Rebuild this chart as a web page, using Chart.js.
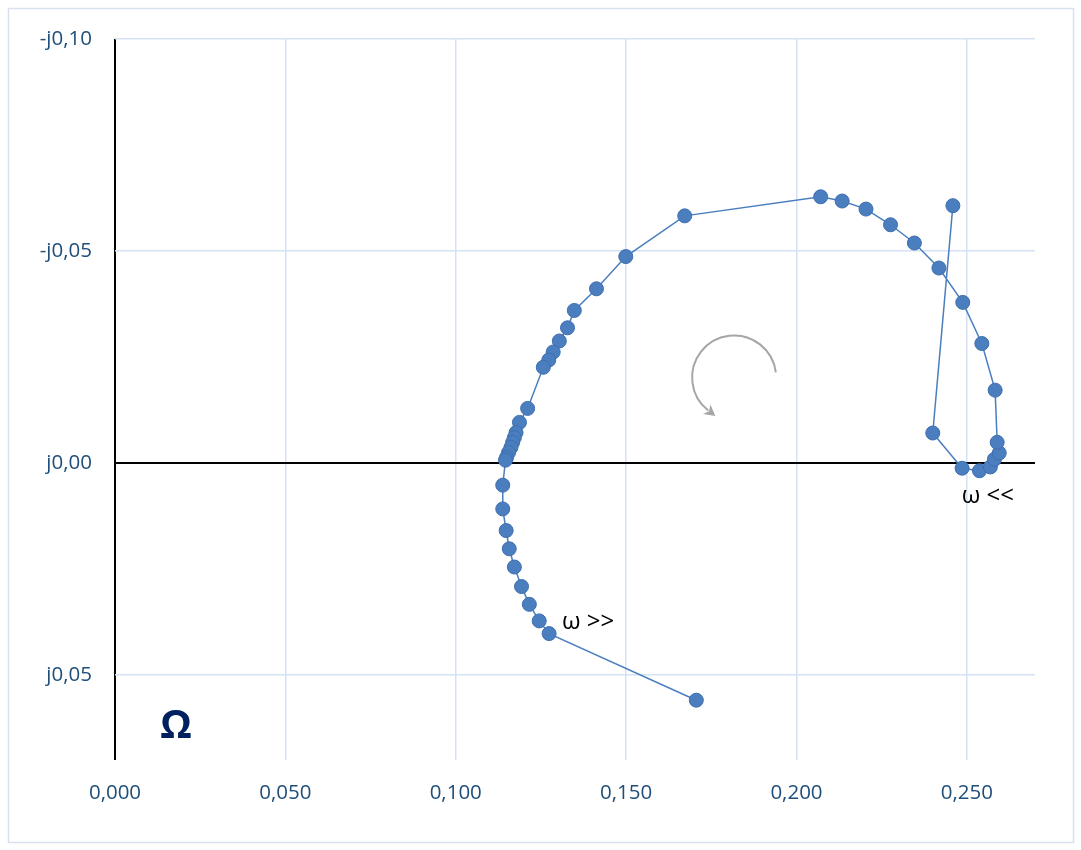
<!DOCTYPE html>
<html>
<head>
<meta charset="utf-8">
<script src="https://cdn.jsdelivr.net/npm/chart.js@4.4.1/dist/chart.umd.min.js"></script>
<style>
  html, body { margin: 0; padding: 0; background: #fff; }
  #wrap { width: 1081px; height: 850px; position: relative; }
</style>
</head>
<body>
<div id="wrap"><canvas id="c" width="1081" height="850"></canvas></div>
<script>
// Real part (Ω)
const resistance = [
  0.2459, 0.2400, 0.2486, 0.2537, 0.2569, 0.2581, 0.2595, 0.2589, 0.2583, 0.2544,
  0.2488, 0.2418, 0.2346, 0.2276, 0.2204, 0.2134, 0.2071, 0.1672, 0.1499, 0.1413,
  0.1348, 0.1328, 0.1304, 0.1286, 0.1273, 0.1257, 0.1211, 0.1187, 0.1177, 0.1172,
  0.1167, 0.1162, 0.1155, 0.1149, 0.1146, 0.1138, 0.1138, 0.1148, 0.1157, 0.1172,
  0.1193, 0.1216, 0.1245, 0.1274, 0.1706
];
// -Imaginary part (plotted upward)
const negReactance = [
  0.0607, 0.0071, -0.0012, -0.0018, -0.0009, 0.0009, 0.0024, 0.0049, 0.0172, 0.0282,
  0.0379, 0.0460, 0.0519, 0.0562, 0.0599, 0.0618, 0.0628, 0.0583, 0.0487, 0.0411,
  0.0360, 0.0319, 0.0288, 0.0262, 0.0243, 0.0226, 0.0129, 0.0096, 0.0072, 0.0060,
  0.0049, 0.0037, 0.0025, 0.0013, 0.0007, -0.0052, -0.0108, -0.0159, -0.0202, -0.0245,
  -0.0291, -0.0333, -0.0372, -0.0402, -0.0559
];
const xTicks = [0, 0.05, 0.10, 0.15, 0.20, 0.25];
const yTicks = [-0.05, 0, 0.05, 0.10];
const unitLabel = 'Ω';
const lowLabel = 'ω <<';
const highLabel = 'ω >>';

const points = resistance.map((x, i) => ({ x: x, y: negReactance[i] }));
const tickColor = '#1F4E79';
const gridColor = '#D6E2F3';
const FONT = '"Open Sans", sans-serif';

function fmtX(v) { return v.toFixed(3).replace('.', ','); }
function fmtY(v) {
  const s = Math.abs(v).toFixed(2).replace('.', ',');
  return (v > 0.0000001 ? '-j' : 'j') + s;
}

const decor = {
  id: 'decor',
  beforeDraw(chart) {
    const ctx = chart.ctx;
    ctx.save();
    ctx.fillStyle = '#fff';
    ctx.fillRect(0, 0, chart.width, chart.height);
    ctx.strokeStyle = '#D9E1EE';
    ctx.lineWidth = 1.5;
    ctx.strokeRect(8.5, 8.5, chart.width - 16, chart.height - 16);
    ctx.restore();
  },
  afterDraw(chart) {
    const ctx = chart.ctx;
    const xs = chart.scales.x, ys = chart.scales.y;
    ctx.save();
    // rotation arrow
    const cx = xs.getPixelForValue(0.1817), cy = ys.getPixelForValue(0.0202);
    const r = 42;
    const a0 = -7 * Math.PI / 180, a1 = 128 * Math.PI / 180;
    ctx.strokeStyle = '#A6A6A6';
    ctx.lineWidth = 2;
    ctx.beginPath();
    ctx.arc(cx, cy, r, a0, a1, true);
    ctx.stroke();
    const ex = cx + r * Math.cos(a1), ey = cy + r * Math.sin(a1);
    const dx = Math.sin(a1), dy = -Math.cos(a1);
    const tipx = ex + dx * 9, tipy = ey + dy * 9;
    const nx = -dy, ny = dx;
    ctx.fillStyle = '#A6A6A6';
    ctx.beginPath();
    ctx.moveTo(tipx, tipy);
    ctx.lineTo(ex - dx * 2 + nx * 6, ey - dy * 2 + ny * 6);
    ctx.lineTo(ex + dx * 1 , ey + dy * 1);
    ctx.lineTo(ex - dx * 2 - nx * 6, ey - dy * 2 - ny * 6);
    ctx.closePath();
    ctx.fill();
    // text labels
    ctx.fillStyle = '#000';
    ctx.font = '24px ' + FONT;
    ctx.textBaseline = 'middle';
    ctx.textAlign = 'left';
    ctx.fillText(highLabel, xs.getPixelForValue(0.1312), ys.getPixelForValue(-0.0376));
    ctx.fillText(lowLabel, xs.getPixelForValue(0.2485), ys.getPixelForValue(-0.0077));
    ctx.fillStyle = '#002060';
    ctx.font = 'bold 40px ' + FONT;
    ctx.textAlign = 'center';
    ctx.fillText(unitLabel, xs.getPixelForValue(0.0179), ys.getPixelForValue(-0.0622));
    ctx.restore();
  }
};

new Chart(document.getElementById('c'), {
  type: 'scatter',
  data: {
    datasets: [{
      data: points,
      showLine: true,
      borderColor: '#4A7EBF',
      borderWidth: 1.5,
      backgroundColor: '#4A7EBF',
      pointBackgroundColor: '#4A7EBF',
      pointBorderColor: '#3F6FAE',
      pointBorderWidth: 1,
      pointRadius: 7,
      tension: 0
    }]
  },
  options: {
    responsive: false,
    animation: false,
    layout: { padding: { left: 0, right: 46, top: 39, bottom: 0 } },
    plugins: { legend: { display: false }, tooltip: { enabled: false } },
    scales: {
      x: {
        type: 'linear',
        min: 0, max: 0.27,
        afterBuildTicks: (axis) => { axis.ticks = xTicks.map(v => ({ value: v })); },
        afterFit: (axis) => { axis.height = 90; },
        border: { display: false },
        grid: {
          drawTicks: false,
          lineWidth: (c) => (c.tick && Math.abs(c.tick.value) < 1e-9 ? 2 : 1.5),
          color: (c) => (c.tick && Math.abs(c.tick.value) < 1e-9 ? '#000' : gridColor)
        },
        ticks: {
          padding: 21,
          color: tickColor,
          font: { family: FONT, size: 20.5 },
          callback: (v) => fmtX(v)
        }
      },
      y: {
        type: 'linear',
        min: -0.07, max: 0.10,
        afterBuildTicks: (axis) => { axis.ticks = yTicks.map(v => ({ value: v })); },
        afterFit: (axis) => { axis.width = 115; },
        border: { display: false },
        grid: {
          drawTicks: false,
          lineWidth: (c) => (c.tick && Math.abs(c.tick.value) < 1e-9 ? 2 : 1.5),
          color: (c) => (c.tick && Math.abs(c.tick.value) < 1e-9 ? '#000' : gridColor)
        },
        ticks: {
          padding: 23,
          color: tickColor,
          font: { family: FONT, size: 20.5 },
          callback: (v) => fmtY(v)
        }
      }
    }
  },
  plugins: [decor]
});
</script>
</body>
</html>
